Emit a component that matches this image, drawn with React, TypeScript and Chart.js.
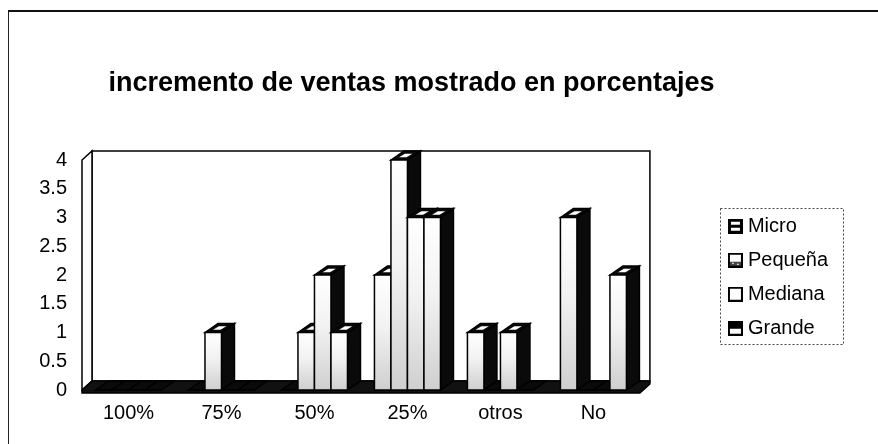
import React, { useEffect, useRef } from "react";
import { Chart, registerables } from "chart.js";

Chart.register(...registerables);

const categories = ["100%", "75%", "50%", "25%", "otros", "No"];
const seriesNames = ["Micro", "Pequeña", "Mediana", "Grande"];
const microValues = [0, 0, 0, 2, 1, 3];
const pequenaValues = [0, 1, 1, 4, 0, 0];
const medianaValues = [0, 0, 2, 3, 1, 0];
const grandeValues = [0, 0, 1, 3, 0, 2];
const yTickMin = 0;
const yTickMax = 4;
const yTickStep = 0.5;
const titleText = "incremento de ventas mostrado en porcentajes";

const WALL_DX = 10;
const WALL_DY = -9;
const BAR_DX = 13;
const BAR_DY = -9;

function poly(ctx: CanvasRenderingContext2D, pts: number[][]) {
  ctx.beginPath();
  ctx.moveTo(pts[0][0], pts[0][1]);
  for (let i = 1; i < pts.length; i++) ctx.lineTo(pts[i][0], pts[i][1]);
  ctx.closePath();
}

function makeIcon(kind: number): HTMLCanvasElement {
  const c = document.createElement("canvas");
  c.width = 15;
  c.height = 15;
  const g = c.getContext("2d")!;
  g.fillStyle = "#000";
  g.fillRect(0, 0, 15, 15);
  g.fillStyle = "#fff";
  if (kind === 0) {
    g.fillRect(3, 3, 9, 3);
    g.fillRect(3, 9, 9, 3);
  } else if (kind === 1) {
    g.fillRect(2, 2, 11, 11);
    g.fillStyle = "#444";
    g.fillRect(2, 9, 11, 4);
    g.fillStyle = "#fff";
    g.fillRect(4, 10, 2, 1);
    g.fillRect(9, 11, 2, 1);
  } else if (kind === 2) {
    g.fillRect(2, 2, 11, 11);
  } else {
    g.fillRect(2, 8, 11, 5);
  }
  return c;
}

const threeDPlugin = {
  id: "threeD",
  beforeDatasetsDraw(chart: any) {
    const { ctx, chartArea } = chart;
    const { left, right, top, bottom } = chartArea;
    ctx.save();
    ctx.lineWidth = 1.5;
    ctx.strokeStyle = "#000";
    ctx.fillStyle = "#fff";
    ctx.beginPath();
    ctx.rect(left + WALL_DX, top + WALL_DY, right - left, bottom - top);
    ctx.fill();
    ctx.stroke();
    poly(ctx, [
      [left, top],
      [left + WALL_DX, top + WALL_DY],
      [left + WALL_DX, bottom + WALL_DY],
      [left, bottom],
    ]);
    ctx.fill();
    ctx.stroke();
    ctx.fillStyle = "#111";
    poly(ctx, [
      [left, bottom],
      [left + WALL_DX, bottom + WALL_DY],
      [right + WALL_DX, bottom + WALL_DY],
      [right + WALL_DX, bottom + WALL_DY + 3],
      [right, bottom + 3],
      [left, bottom + 3],
    ]);
    ctx.fill();
    ctx.stroke();
    ctx.restore();
  },
  afterDatasetsDraw(chart: any) {
    const { ctx } = chart;
    ctx.save();
    ctx.lineWidth = 1.5;
    ctx.strokeStyle = "#000";
    const n = chart.data.datasets.length;
    for (let d = 0; d < n; d++) {
      const meta = chart.getDatasetMeta(d);
      meta.data.forEach((el: any) => {
        const { x, y, base, width } = el.getProps(["x", "y", "base", "width"], true);
        const xl = x - width / 2;
        const xr = x + width / 2;
        const h = base - y;
        if (h > 0.5) {
          ctx.fillStyle = "#0a0a0a";
          poly(ctx, [
            [xr, y],
            [xr + BAR_DX, y + BAR_DY],
            [xr + BAR_DX, base + BAR_DY],
            [xr, base],
          ]);
          ctx.fill();
          ctx.stroke();
        }
        const tp = [
          [xl, y],
          [xl + BAR_DX, y + BAR_DY],
          [xr + BAR_DX, y + BAR_DY],
          [xr, y],
        ];
        ctx.fillStyle = "#0a0a0a";
        poly(ctx, tp);
        ctx.fill();
        ctx.stroke();
        if (h > 0.5) {
          const cx = (tp[0][0] + tp[1][0] + tp[2][0] + tp[3][0]) / 4;
          const cy = (tp[0][1] + tp[1][1] + tp[2][1] + tp[3][1]) / 4;
          const inner = tp.map((p) => [cx + (p[0] - cx) * 0.45, cy + (p[1] - cy) * 0.4]);
          ctx.fillStyle = "#fff";
          poly(ctx, inner);
          ctx.fill();
          const grad = ctx.createLinearGradient(0, y, 0, base);
          grad.addColorStop(0, "#ffffff");
          grad.addColorStop(0.45, "#f2f2f2");
          grad.addColorStop(1, "#cfcfcf");
          ctx.fillStyle = grad;
          ctx.beginPath();
          ctx.rect(xl, y, width, h);
          ctx.fill();
          ctx.stroke();
        }
      });
    }
    ctx.restore();
  },
  afterDraw(chart: any) {
    const legend = chart.legend;
    if (!legend || !legend.legendHitBoxes || !legend.legendHitBoxes.length) return;
    const boxes = legend.legendHitBoxes;
    let l = Infinity, t = Infinity, r = -Infinity, b = -Infinity;
    boxes.forEach((hb: any) => {
      l = Math.min(l, hb.left);
      t = Math.min(t, hb.top);
      r = Math.max(r, hb.left + hb.width);
      b = Math.max(b, hb.top + hb.height);
    });
    const { ctx } = chart;
    ctx.save();
    ctx.strokeStyle = "#444";
    ctx.lineWidth = 1;
    ctx.setLineDash([2, 2]);
    const x0 = Math.round(l - 13) + 0.5;
    const y0 = Math.round(t - 8) + 0.5;
    const x1 = Math.round(r + 15) + 0.5;
    const y1 = Math.round(b + 6) + 0.5;
    ctx.strokeRect(x0, y0, x1 - x0, y1 - y0);
    ctx.restore();
  },
};

export default function App() {
  const canvasRef = useRef<HTMLCanvasElement | null>(null);

  useEffect(() => {
    if (!canvasRef.current) return;
    const icons = [0, 1, 2, 3].map((k) => makeIcon(k));
    Chart.defaults.font.family = "'Liberation Sans', Arial, sans-serif";
    Chart.defaults.color = "#000";
    const seriesValues = [microValues, pequenaValues, medianaValues, grandeValues];
    const chart = new Chart(canvasRef.current, {
      type: "bar",
      data: {
        labels: categories,
        datasets: seriesNames.map((name, i) => ({
          label: name,
          data: seriesValues[i],
          backgroundColor: "rgba(0,0,0,0)",
          borderWidth: 0,
          barPercentage: 1,
          categoryPercentage: 0.71,
        })),
      },
      options: {
        responsive: false,
        animation: false,
        devicePixelRatio: 1,
        layout: { padding: { left: -15, right: 40, top: 0, bottom: 16 } },
        plugins: {
          tooltip: { enabled: false },
          title: {
            display: true,
            text: titleText,
            color: "#000",
            font: { size: 27, weight: "bold" },
            padding: { top: 67.6, bottom: 60 },
          },
          legend: {
            position: "right",
            fullSize: false,
            title: { display: true, text: " ", font: { size: 2 }, padding: { top: 1, bottom: 1 } },
            labels: {
              color: "#000",
              font: { size: 20 },
              padding: 14,
              usePointStyle: true,
              pointStyleWidth: 5,
              generateLabels: (ch: any) =>
                ch.data.datasets.map((ds: any, i: number) => ({
                  text: ds.label,
                  pointStyle: icons[i],
                  fillStyle: "#fff",
                  strokeStyle: "#000",
                  lineWidth: 0,
                  hidden: false,
                  datasetIndex: i,
                  fontColor: "#000",
                })),
            },
          },
        },
        scales: {
          x: {
            grid: { display: false },
            border: { display: false },
            ticks: { color: "#000", font: { size: 20 }, padding: 3, maxRotation: 0 },
          },
          y: {
            min: yTickMin,
            max: yTickMax,
            grid: { display: false },
            border: { display: false },
            ticks: {
              stepSize: yTickStep,
              color: "#000",
              font: { size: 20 },
              padding: 7,
              callback: (v: any) => String(Math.round(Number(v) * 10) / 10),
            },
            afterFit: (s: any) => {
              s.width = 97;
            },
          },
          y2: {
            position: "right",
            display: true,
            grid: { display: false },
            border: { display: false },
            ticks: { display: false },
            afterFit: (s: any) => {
              s.width = 79;
            },
          },
        },
      },
      plugins: [threeDPlugin],
    } as any);
    return () => chart.destroy();
  }, []);

  return (
    <div
      style={{
        position: "fixed",
        left: 0,
        top: 0,
        width: 878,
        height: 444,
        overflow: "hidden",
        background: "#fff",
      }}
    >
      <canvas
        ref={canvasRef}
        width={878}
        height={444}
        style={{ position: "absolute", left: 0, top: 0, width: 878, height: 444 }}
      />
      <div
        style={{
          position: "absolute",
          left: 8,
          top: 10,
          width: 900,
          height: 500,
          borderLeft: "1px solid #222",
          borderTop: "2px solid #111",
          pointerEvents: "none",
        }}
      />
    </div>
  );
}
